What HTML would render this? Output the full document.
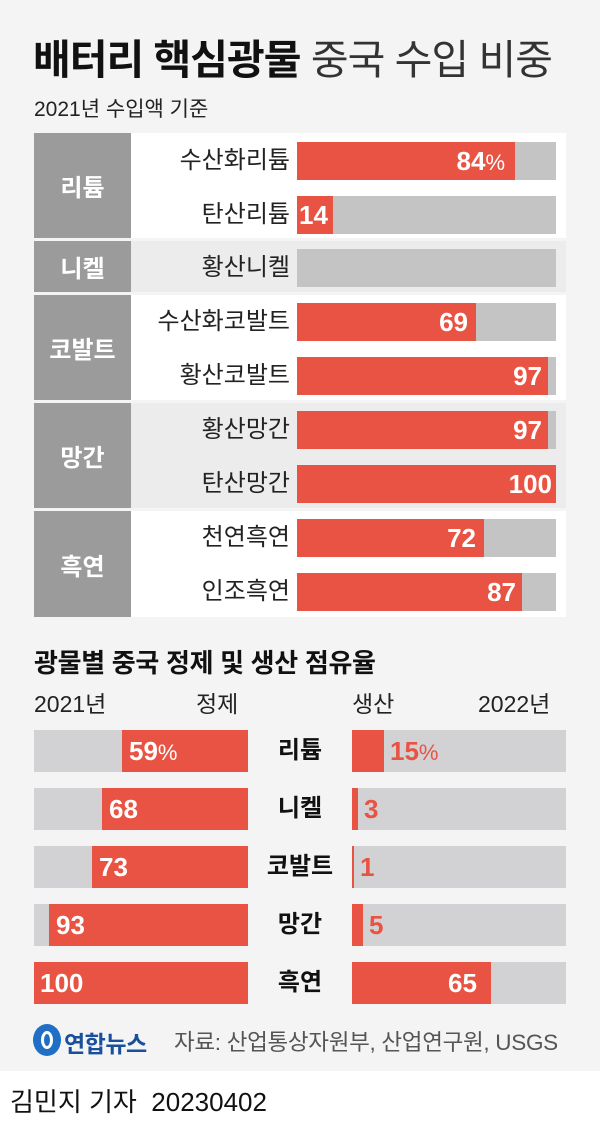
<!DOCTYPE html>
<html><head><meta charset="utf-8"><style>
*{margin:0;padding:0;box-sizing:border-box}
body{width:600px;height:1127px;position:relative;background:#fff;font-family:"Liberation Sans","Noto Sans CJK KR",sans-serif;overflow:hidden}
.a{position:absolute}
.bg{left:0;top:0;width:600px;height:1071px;background:#f4f4f4}
.cat{background:#9b9b9b;color:#fff;font-weight:bold;font-size:24px;display:flex;align-items:center;justify-content:center;left:34px;width:97px}
.grp{left:131px;width:435px}
.lbl{font-size:24px;color:#222;text-align:right;width:220px;left:70px;line-height:38px;white-space:nowrap}
.bar{left:297px;width:259px;height:38px;background:#c4c4c4}
.red{background:#e85343;position:absolute;left:0;top:0;height:100%}
.v{position:absolute;color:#fff;font-weight:bold;font-size:26px;line-height:38px}
.lb{left:34px;width:214px;height:42px;background:#d2d2d4}
.rb{left:352px;width:214px;height:42px;background:#d2d2d4}
.v2{position:absolute;font-weight:bold;font-size:26px;line-height:42px}
.mid{left:248px;width:104px;text-align:center;font-weight:bold;font-size:24px;line-height:42px;color:#111}
</style></head><body>
<div class="a bg"></div>
<div class="a" style="left:33px;top:26px;font-size:41px;color:#111;letter-spacing:-1px;white-space:nowrap"><b>배터리 핵심광물</b> <span style="color:#333">중국 수입 비중</span></div>
<div class="a" style="left:34px;top:93px;font-size:21px;color:#222">2021년 수입액 기준</div>

<div class="a grp" style="top:133px;height:105px;background:#fff"></div>
<div class="a grp" style="top:241px;height:51px;background:#ececec"></div>
<div class="a grp" style="top:295px;height:105px;background:#fff"></div>
<div class="a grp" style="top:403px;height:105px;background:#ececec"></div>
<div class="a grp" style="top:511px;height:106px;background:#fff"></div>

<div class="a cat" style="top:133px;height:105px">리튬</div>
<div class="a cat" style="top:241px;height:51px">니켈</div>
<div class="a cat" style="top:295px;height:105px">코발트</div>
<div class="a cat" style="top:403px;height:105px">망간</div>
<div class="a cat" style="top:511px;height:106px">흑연</div>

<div class="a lbl" style="top:142px">수산화리튬</div>
<div class="a bar" style="top:142px"><div class="red" style="width:218px"></div><div class="v" style="right:51px">84<span style="font-weight:normal;font-size:22px">%</span></div></div>
<div class="a lbl" style="top:196px">탄산리튬</div>
<div class="a bar" style="top:196px"><div class="red" style="width:36px"></div><div class="v" style="left:2px">14</div></div>
<div class="a lbl" style="top:249px">황산니켈</div>
<div class="a bar" style="top:249px"></div>
<div class="a lbl" style="top:303px">수산화코발트</div>
<div class="a bar" style="top:303px"><div class="red" style="width:179px"></div><div class="v" style="right:88px">69</div></div>
<div class="a lbl" style="top:357px">황산코발트</div>
<div class="a bar" style="top:357px"><div class="red" style="width:251px"></div><div class="v" style="right:14px">97</div></div>
<div class="a lbl" style="top:411px">황산망간</div>
<div class="a bar" style="top:411px"><div class="red" style="width:251px"></div><div class="v" style="right:14px">97</div></div>
<div class="a lbl" style="top:465px">탄산망간</div>
<div class="a bar" style="top:465px"><div class="red" style="width:259px"></div><div class="v" style="right:4px">100</div></div>
<div class="a lbl" style="top:519px">천연흑연</div>
<div class="a bar" style="top:519px"><div class="red" style="width:187px"></div><div class="v" style="right:80px">72</div></div>
<div class="a lbl" style="top:573px">인조흑연</div>
<div class="a bar" style="top:573px"><div class="red" style="width:225px"></div><div class="v" style="right:40px">87</div></div>

<div class="a" style="left:34px;top:643px;font-size:26px;font-weight:bold;color:#111;letter-spacing:-0.3px;white-space:nowrap">광물별 중국 정제 및 생산 점유율</div>
<div class="a" style="left:34px;top:685px;font-size:23px;color:#222">2021년</div>
<div class="a" style="left:196px;top:685px;font-size:23px;color:#222">정제</div>
<div class="a" style="left:352px;top:685px;font-size:23px;color:#222">생산</div>
<div class="a" style="left:478px;top:685px;font-size:23px;color:#222">2022년</div>

<div class="a lb" style="top:730px"><div class="red" style="left:88px;width:126px"></div><div class="v2" style="left:95px;color:#fff">59<span style="font-weight:normal;font-size:22px">%</span></div></div>
<div class="a mid" style="top:730px">리튬</div>
<div class="a rb" style="top:730px"><div class="red" style="width:32px"></div><div class="v2" style="left:38px;color:#e85343">15<span style="font-weight:normal;font-size:22px">%</span></div></div>

<div class="a lb" style="top:788px"><div class="red" style="left:68px;width:146px"></div><div class="v2" style="left:75px;color:#fff">68</div></div>
<div class="a mid" style="top:788px">니켈</div>
<div class="a rb" style="top:788px"><div class="red" style="width:6px"></div><div class="v2" style="left:12px;color:#e85343">3</div></div>

<div class="a lb" style="top:846px"><div class="red" style="left:58px;width:156px"></div><div class="v2" style="left:65px;color:#fff">73</div></div>
<div class="a mid" style="top:846px">코발트</div>
<div class="a rb" style="top:846px"><div class="red" style="width:2px"></div><div class="v2" style="left:8px;color:#e85343">1</div></div>

<div class="a lb" style="top:904px"><div class="red" style="left:15px;width:199px"></div><div class="v2" style="left:22px;color:#fff">93</div></div>
<div class="a mid" style="top:904px">망간</div>
<div class="a rb" style="top:904px"><div class="red" style="width:11px"></div><div class="v2" style="left:17px;color:#e85343">5</div></div>

<div class="a lb" style="top:962px"><div class="red" style="left:0;width:214px"></div><div class="v2" style="left:6px;color:#fff">100</div></div>
<div class="a mid" style="top:962px">흑연</div>
<div class="a rb" style="top:962px"><div class="red" style="width:139px"></div><div class="v2" style="left:96px;color:#fff">65</div></div>

<div class="a" style="left:33px;top:1024px;width:28px;height:32px;border-radius:50%;background:#1f6fc5"></div>
<div class="a" style="left:41px;top:1031px;width:12px;height:18px;border-radius:50%;border:3px solid #fff"></div>
<div class="a" style="left:64px;top:1025px;font-size:23px;font-weight:bold;color:#1a4f9c;letter-spacing:-0.5px">연합뉴스</div>
<div class="a" style="left:174px;top:1025px;font-size:22.5px;color:#555;white-space:nowrap;letter-spacing:-0.3px">자료: 산업통상자원부, 산업연구원, USGS</div>

<div class="a" style="left:10px;top:1082px;font-size:26px;color:#111;white-space:nowrap">김민지 기자&nbsp; 20230402</div>
</body></html>
